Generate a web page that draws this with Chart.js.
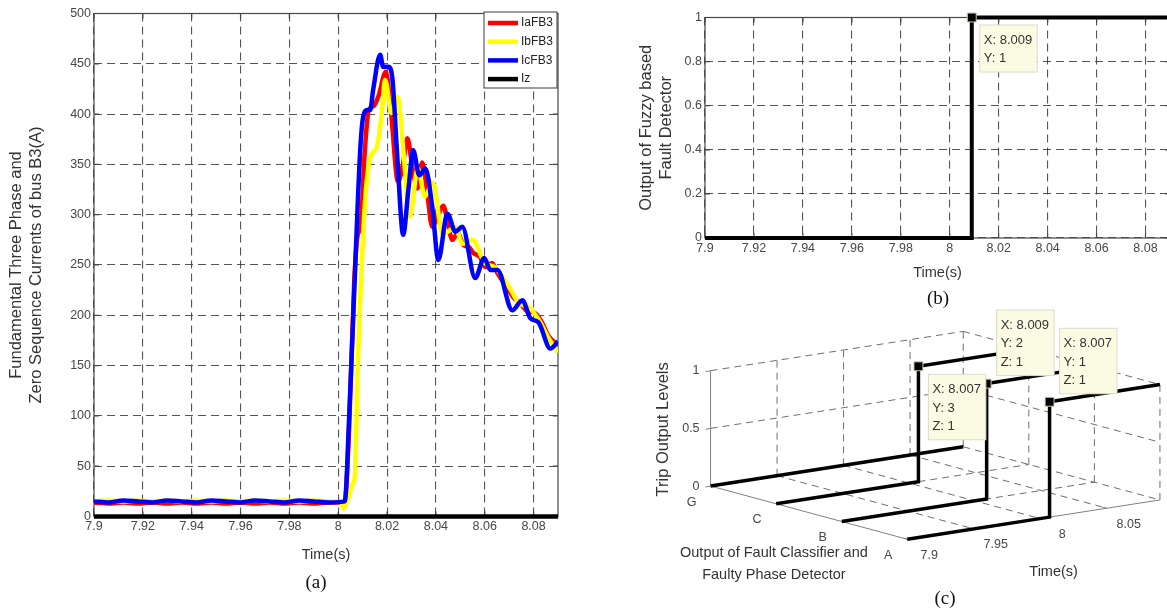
<!DOCTYPE html>
<html lang="en">
<head>
<meta charset="utf-8">
<title>Fault detection results</title>
<script src="https://cdn.jsdelivr.net/npm/chart.js"></script>
<style>
  html, body { margin: 0; padding: 0; background: #fff; overflow: hidden; width: 1167px; height: 613px; }
  canvas { position: absolute; }
  #chartA { left: 0; top: 0; }
  #chartB { left: 600px; top: 0; }
  #chartC { left: 600px; top: 300px; }
  .cap { position: absolute; font: 19px "Liberation Serif", "Times New Roman", serif; color: #111;
         transform: translate(-50%, -50%); }
</style>
</head>
<body>
<canvas id="chartA" width="600" height="600"></canvas>
<canvas id="chartB" width="620" height="300"></canvas>
<canvas id="chartC" width="567" height="313"></canvas>
<div class="cap" style="left:316px;top:582px">(a)</div>
<div class="cap" style="left:938px;top:298px">(b)</div>
<div class="cap" style="left:945px;top:598px">(c)</div>

<script>
"use strict";

// ---- (a) fundamental currents of bus B3 ----
var iaTime = [7.900, 7.906, 7.912, 7.918, 7.924, 7.930, 7.936, 7.942, 7.948, 7.954, 7.960, 7.966, 7.972, 7.978, 7.984, 7.990, 7.996,
  8.0026, 8.0045, 8.0065, 8.0080, 8.0092, 8.0108, 8.0125, 8.0145, 8.0165, 8.0195, 8.0215, 8.0245, 8.0265, 8.0283, 8.0305,
  8.0324, 8.0344, 8.0365, 8.0385, 8.0410, 8.0430, 8.0450, 8.0467, 8.0490, 8.0512, 8.0535, 8.0553, 8.0580, 8.0602, 8.0630,
  8.0652, 8.0690, 8.0717, 8.0745, 8.0775, 8.0800, 8.0830, 8.0860, 8.0900];
var iaVal = [14, 13, 14, 13, 14, 13, 14, 13, 14, 13, 14, 13, 14, 13, 14, 13, 14,
  14, 90, 230, 280, 288, 360, 404, 408, 418, 442, 405, 333, 350, 376, 345,
  326, 352, 320, 288, 300, 309, 290, 275, 282, 270, 268, 262, 258, 248, 252,
  242, 228, 218, 212, 204, 203, 195, 180, 170];

var ibTime = [7.900, 7.906, 7.912, 7.918, 7.924, 7.930, 7.936, 7.942, 7.948, 7.954, 7.960, 7.966, 7.972, 7.978, 7.984, 7.990, 7.996,
  8.0012, 8.0022, 8.0040, 8.0060, 8.0068, 8.0080, 8.0097, 8.0112, 8.0131, 8.0158, 8.0178, 8.0192, 8.0218, 8.0243, 8.0268,
  8.0293, 8.0326, 8.0355, 8.0387, 8.0428, 8.0455, 8.0478, 8.0510, 8.0550, 8.0600, 8.0640, 8.0700, 8.0740, 8.0780, 8.0820,
  8.0860, 8.0900];
var ibVal = [15, 16, 15, 16, 15, 16, 15, 16, 15, 16, 15, 16, 15, 16, 15, 16, 15,
  14, 8, 18, 33, 40, 150, 255, 320, 357, 367, 400, 434, 401, 417, 360,
  298, 346, 318, 332, 281, 284, 288, 271, 275, 252, 248, 228, 212, 208, 196,
  178, 163];

var icTime = [7.900, 7.906, 7.912, 7.918, 7.924, 7.930, 7.936, 7.942, 7.948, 7.954, 7.960, 7.966, 7.972, 7.978, 7.984, 7.990, 7.996,
  8.0027, 8.0045, 8.0070, 8.0090, 8.0102, 8.0119, 8.0131, 8.0143, 8.0172, 8.0184, 8.0205, 8.0221, 8.0242, 8.0266, 8.0287,
  8.0307, 8.0332, 8.0357, 8.0385, 8.0410, 8.0447, 8.0480, 8.0508, 8.0561, 8.0598, 8.0623, 8.0652, 8.0713, 8.0754, 8.0787,
  8.0820, 8.0869, 8.0900];
var icVal = [15, 14, 16, 15, 14, 16, 15, 14, 16, 15, 14, 16, 15, 14, 16, 15, 14,
  15, 100, 251, 364, 397, 404, 404, 424, 459, 447, 447, 437, 357, 280, 324,
  364, 339, 346, 308, 255, 301, 283, 288, 237, 257, 245, 245, 205, 215, 197,
  193, 167, 174];

var izTime = [7.9, 8.09];
var izVal = [0, 0];

var timeTicks = [7.9, 7.92, 7.94, 7.96, 7.98, 8, 8.02, 8.04, 8.06, 8.08];
var currentTicks = [0, 50, 100, 150, 200, 250, 300, 350, 400, 450, 500];

// ---- (b) fuzzy fault detector output ----
var detTime = [7.9, 8.009, 8.09];
var detOut = [0, 1, 1];
var detTicks = [0, 0.2, 0.4, 0.6, 0.8, 1];
var detTipTime = [8.009];
var detTipOut = [1];

// ---- (c) trip outputs per phase (A=1, B=2, C=3, G=4) ----
var phaseNames = ['A', 'B', 'C', 'G'];
var tripTimeA = [7.9, 8.007, 8.007, 8.09], tripLevelA = [0, 0, 1, 1];
var tripTimeB = [7.9, 8.009, 8.009, 8.09], tripLevelB = [0, 0, 1, 1];
var tripTimeC = [7.9, 8.007, 8.007, 8.09], tripLevelC = [0, 0, 1, 1];
var tripTimeG = [7.9, 8.09], tripLevelG = [0, 0];
var tipTime = [8.007, 8.009, 8.007];
var tipPhase = [1, 2, 3];
var tipLevel = [1, 1, 1];
var tipAbove = [true, true, false];
var tripTimeTicks = [7.9, 7.95, 8, 8.05];
var tripLevelTicks = [0, 0.5, 1];

var fontSans = '"Liberation Sans", Arial, Helvetica, sans-serif';
var tickColor = '#474747';
var titleColor = '#333333';
var gridColor = 'rgba(55,55,55,0.85)';
var axisColor = '#474747';

function fmt(v) { return String(Number(v.toFixed(4))); }

function pts(xs, ys) {
  return xs.map(function (x, i) { return { x: x, y: ys[i] }; });
}

function series(label, xs, ys, color, order) {
  return {
    label: label, data: pts(xs, ys), showLine: true,
    borderColor: color, backgroundColor: color, borderWidth: 4.5,
    pointRadius: 0, cubicInterpolationMode: 'monotone', order: order
  };
}

function fixedTicks(list) {
  return function (scale) { scale.ticks = list.map(function (v) { return { value: v }; }); };
}

// box around the axes plus short inward tick marks
var boxPlugin = {
  id: 'box',
  beforeDatasetsDraw: function (chart) {
    var a = chart.chartArea, ctx = chart.ctx, sx = chart.scales.x, sy = chart.scales.y;
    ctx.save();
    ctx.strokeStyle = axisColor;
    ctx.lineWidth = 1.2;
    ctx.strokeRect(a.left, a.top, a.right - a.left, a.bottom - a.top);
    ctx.beginPath();
    sx.ticks.forEach(function (t) {
      var p = sx.getPixelForValue(t.value);
      ctx.moveTo(p, a.bottom); ctx.lineTo(p, a.bottom - 5);
      ctx.moveTo(p, a.top); ctx.lineTo(p, a.top + 5);
    });
    sy.ticks.forEach(function (t) {
      var p = sy.getPixelForValue(t.value);
      ctx.moveTo(a.left, p); ctx.lineTo(a.left + 5, p);
      ctx.moveTo(a.right, p); ctx.lineTo(a.right - 5, p);
    });
    ctx.stroke();
    ctx.restore();
  }
};

function drawTip(ctx, x, y, lines) {
  ctx.save();
  ctx.font = '13px ' + fontSans;
  var w = 0;
  lines.forEach(function (s) { w = Math.max(w, ctx.measureText(s).width); });
  w += 9;
  var h = lines.length * 18.5 + 10;
  ctx.fillStyle = '#fbfbe3';
  ctx.fillRect(x, y, w, h);
  ctx.strokeStyle = '#dcdccc';
  ctx.lineWidth = 1;
  ctx.strokeRect(x, y, w, h);
  ctx.fillStyle = '#333';
  ctx.textBaseline = 'middle';
  ctx.textAlign = 'left';
  lines.forEach(function (s, i) { ctx.fillText(s, x + 4, y + 15 + i * 18.8); });
  ctx.restore();
  return { w: w, h: h };
}

function axisOpts(min, max, ticks, extra) {
  var o = {
    type: 'linear', min: min, max: max,
    afterBuildTicks: fixedTicks(ticks),
    grid: { color: gridColor, lineWidth: 1.1, drawTicks: false },
    border: { display: false, dash: [8, 5] },
    ticks: { color: tickColor, font: { family: fontSans, size: 12.5 }, callback: fmt,
             maxRotation: 0, autoSkip: false }
  };
  Object.keys(extra).forEach(function (k) { o[k] = extra[k]; });
  return o;
}

// ---------- chart (a) ----------
var legendPlugin = {
  id: 'insideLegend',
  afterDraw: function (chart) {
    var a = chart.chartArea, ctx = chart.ctx;
    var ds = chart.data.datasets;
    var w = 73, h = 76, x = a.right - w - 1, y = a.top - 1.5;
    ctx.save();
    ctx.fillStyle = '#fff';
    ctx.fillRect(x, y, w, h);
    ctx.strokeStyle = '#3c3c3c';
    ctx.lineWidth = 1;
    ctx.strokeRect(x, y, w, h);
    ctx.font = '12px ' + fontSans;
    ctx.textBaseline = 'middle';
    ds.forEach(function (d, i) {
      var ly = y + 11 + i * 18.7;
      ctx.strokeStyle = d.borderColor;
      ctx.lineWidth = 4.5;
      ctx.beginPath(); ctx.moveTo(x + 4, ly); ctx.lineTo(x + 34, ly); ctx.stroke();
      ctx.fillStyle = '#222';
      ctx.fillText(d.label, x + 37, ly);
    });
    ctx.restore();
  }
};

new Chart(document.getElementById('chartA'), {
  type: 'scatter',
  data: {
    datasets: [
      series('IaFB3', iaTime, iaVal, '#ff0000', 3),
      series('IbFB3', ibTime, ibVal, '#ffff00', 2),
      series('IcFB3', icTime, icVal, '#0000ff', 1),
      Object.assign(series('Iz', izTime, izVal, '#000000', 0), { clip: false })
    ]
  },
  options: {
    responsive: false, animation: false, events: [],
    layout: { padding: { left: 0, top: 13.5, right: 42, bottom: 0 } },
    plugins: { legend: { display: false }, tooltip: { enabled: false } },
    scales: {
      x: axisOpts(7.9, 8.09, timeTicks, {
        afterFit: function (s) { s.height = 83.5; },
        title: { display: true, text: 'Time(s)', color: titleColor,
                 font: { family: fontSans, size: 14.5 }, padding: { top: 0, bottom: 36.3 } }
      }),
      y: axisOpts(0, 500, currentTicks, {
        afterFit: function (s) { s.width = 94; },
        title: { display: true, text: ['Fundamental Three Phase and', 'Zero Sequence Currents of bus B3(A)'],
                 color: titleColor, font: { family: fontSans, size: 16.5 }, padding: { top: 7, bottom: 0 } }
      })
    }
  },
  plugins: [boxPlugin, legendPlugin]
});

// ---------- chart (b) ----------
var detTipPlugin = {
  id: 'detTip',
  afterDatasetsDraw: function (chart) {
    var sx = chart.scales.x, sy = chart.scales.y;
    detTipTime.forEach(function (t, i) {
      var px = sx.getPixelForValue(t), py = sy.getPixelForValue(detTipOut[i]);
      drawTip(chart.ctx, px + 8, py + 7.5, ['X: ' + t.toFixed(3), 'Y: ' + detTipOut[i]]);
    });
  }
};

new Chart(document.getElementById('chartB'), {
  type: 'scatter',
  data: {
    datasets: [
      { label: 'marker', data: pts(detTipTime, detTipOut), pointStyle: 'rect', pointRadius: 6.3,
        backgroundColor: '#000', borderColor: '#c8c8a8', borderWidth: 1, order: 0, clip: false },
      { label: 'detector', data: pts(detTime, detOut), showLine: true, stepped: true,
        borderColor: '#000', borderWidth: 4, pointRadius: 0, order: 1, clip: false }
    ]
  },
  options: {
    responsive: false, animation: false, events: [],
    layout: { padding: { left: 0, top: 17.5, right: 50, bottom: 0 } },
    plugins: { legend: { display: false }, tooltip: { enabled: false } },
    scales: {
      x: axisOpts(7.9, 8.09, timeTicks, {
        afterFit: function (s) { s.height = 62; },
        title: { display: true, text: 'Time(s)', color: titleColor,
                 font: { family: fontSans, size: 14.5 }, padding: { top: 0, bottom: 18.3 } }
      }),
      y: axisOpts(0, 1, detTicks, {
        afterFit: function (s) { s.width = 105; },
        title: { display: true, text: ['Output of Fuzzy based', 'Fault Detector'],
                 color: titleColor, font: { family: fontSans, size: 16.5 }, padding: { top: 37, bottom: 0 } }
      })
    }
  },
  plugins: [boxPlugin, detTipPlugin]
});

// ---------- chart (c): 3-D view projected onto the page ----------
// oblique view: time runs right and slightly up, phase runs toward the viewer, level runs up
var view = { ox: 706, oy: 487.5, tx: 1365, ty: -217, px: 67.3, py: 18.6, zy: -121 };
var tRange = [7.9, 8.09], phRange = [1, 4];

function project(t, ph, z) {
  return {
    x: view.ox + (t - tRange[0]) * view.tx + (phRange[1] - ph) * view.px,
    y: view.oy + (t - tRange[0]) * view.ty + (phRange[1] - ph) * view.py + z * view.zy
  };
}

function trace(times, levels, ph) {
  return times.map(function (t, i) { return project(t, ph, levels[i]); });
}

var grid3dPlugin = {
  id: 'grid3d',
  beforeDatasetsDraw: function (chart) {
    var ctx = chart.ctx, sx = chart.scales.x, sy = chart.scales.y;
    function c(p) { return { x: sx.getPixelForValue(p.x), y: sy.getPixelForValue(p.y) }; }
    function seg(p, q) {
      var a = c(p), b = c(q);
      ctx.beginPath(); ctx.moveTo(a.x, a.y); ctx.lineTo(b.x, b.y); ctx.stroke();
    }
    var t0 = tRange[0], t1 = tRange[1], back = phRange[1], front = phRange[0];
    ctx.save();
    ctx.strokeStyle = '#6e6e6e';
    ctx.lineWidth = 1;
    ctx.setLineDash([7, 5]);
    [0.5, 1].forEach(function (z) {
      seg(project(t0, back, z), project(t1, back, z));
      seg(project(t1, back, z), project(t1, front, z));
    });
    tripTimeTicks.slice(1).concat([t1]).forEach(function (t) {
      seg(project(t, back, 0), project(t, back, 1));
      seg(project(t, back, 0), project(t, front, 0));
    });
    [3, 2, 1].forEach(function (ph) { seg(project(t1, ph, 0), project(t1, ph, 1)); });
    [3, 2].forEach(function (ph) { seg(project(t0, ph, 0), project(t1, ph, 0)); });

    ctx.setLineDash([]);
    ctx.strokeStyle = '#808080';
    seg(project(t0, back, 0), project(t0, back, 1));
    seg(project(t0, back, 0), project(t0, front, 0));
    seg(project(t0, front, 0), project(t1, front, 0));
    tripLevelTicks.forEach(function (z) {
      var p = c(project(t0, back, z));
      ctx.beginPath(); ctx.moveTo(p.x, p.y); ctx.lineTo(p.x - 5, p.y + 1); ctx.stroke();
    });
    tripTimeTicks.forEach(function (t) {
      var p = c(project(t, front, 0));
      ctx.beginPath(); ctx.moveTo(p.x, p.y); ctx.lineTo(p.x - 4, p.y - 1); ctx.stroke();
    });

    ctx.fillStyle = tickColor;
    ctx.font = '12.5px ' + fontSans;
    ctx.textBaseline = 'middle';
    ctx.textAlign = 'right';
    tripLevelTicks.forEach(function (z) {
      var p = c(project(t0, back, z));
      ctx.fillText(fmt(z), p.x - 11, p.y);
    });
    ctx.textAlign = 'center';
    phaseNames.forEach(function (n, i) {
      var p = c(project(t0, i + 1, 0));
      ctx.fillText(n, p.x - 19, p.y + 16);
    });
    tripTimeTicks.forEach(function (t) {
      var p = c(project(t, front, 0));
      ctx.fillText(fmt(t), p.x + 22, p.y + 16);
    });

    ctx.fillStyle = titleColor;
    ctx.font = '14.5px ' + fontSans;
    var mid = c(project((t0 + t1) / 2, front, 0));
    ctx.fillText('Time(s)', mid.x + 20, mid.y + 52);
    var side = c(project(t0, (front + back) / 2, 0));
    ctx.fillText('Output of Fault Classifier and', side.x - 35, side.y + 40);
    ctx.fillText('Faulty Phase Detector', side.x - 35, side.y + 62);
    var zMid = c(project(t0, back, 0.5));
    ctx.save();
    ctx.translate(zMid.x - 47, zMid.y + 1);
    ctx.rotate(-Math.PI / 2);
    ctx.font = '16.5px ' + fontSans;
    ctx.fillText('Trip Output Levels', 0, 0);
    ctx.restore();
    ctx.restore();
  },
  afterDatasetsDraw: function (chart) {
    var sx = chart.scales.x, sy = chart.scales.y;
    tipTime.forEach(function (t, i) {
      var p = project(t, tipPhase[i], tipLevel[i]);
      var px = sx.getPixelForValue(p.x), py = sy.getPixelForValue(p.y);
      var lines = ['X: ' + t.toFixed(3), 'Y: ' + tipPhase[i], 'Z: ' + tipLevel[i]];
      var h = lines.length * 18.5 + 10;
      drawTip(chart.ctx, px + 10, tipAbove[i] ? py - 8 - h : py + 8, lines);
    });
  }
};

function tripSet(times, levels, ph) {
  return { data: trace(times, levels, ph), showLine: true, borderColor: '#000', borderWidth: 3.5,
           pointRadius: 0, order: 1, clip: false };
}

new Chart(document.getElementById('chartC'), {
  type: 'scatter',
  data: {
    datasets: [
      tripSet(tripTimeG, tripLevelG, 4),
      tripSet(tripTimeC, tripLevelC, 3),
      tripSet(tripTimeB, tripLevelB, 2),
      tripSet(tripTimeA, tripLevelA, 1),
      { data: tipTime.map(function (t, i) { return project(t, tipPhase[i], tipLevel[i]); }),
        pointStyle: 'rect', pointRadius: 6.3, backgroundColor: '#000', borderColor: '#c8c8a8',
        borderWidth: 1, order: 0, clip: false }
    ]
  },
  options: {
    responsive: false, animation: false, events: [],
    layout: { padding: 0 },
    plugins: { legend: { display: false }, tooltip: { enabled: false } },
    scales: {
      x: { type: 'linear', min: 600, max: 1167, display: false },
      y: { type: 'linear', min: 300, max: 613, reverse: true, display: false }
    }
  },
  plugins: [grid3dPlugin]
});
</script>
</body>
</html>
